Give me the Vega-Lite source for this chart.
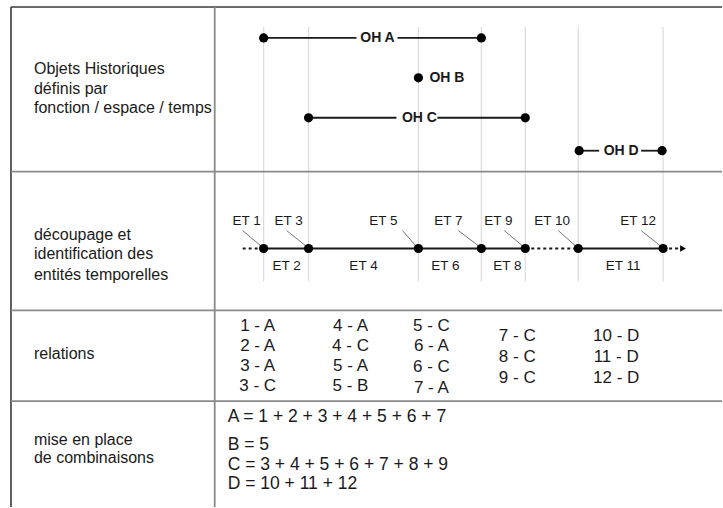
{
  "$schema": "https://vega.github.io/schema/vega-lite/v6.json",
  "width": 723,
  "height": 508,
  "padding": 0,
  "autosize": {"type": "fit", "contains": "padding"},
  "background": "white",
  "config": {"view": {"stroke": null}, "text": {"font": "Liberation Sans"}},
  "datasets": {
    "segments": [
      {"kind": "outer", "x": 11, "y": 7, "x2": 723, "y2": 7},
      {"kind": "outer", "x": 11, "y": 7, "x2": 11, "y2": 508},
      {"kind": "divider", "x": 215, "y": 7, "x2": 215, "y2": 508},
      {"kind": "divider", "x": 11, "y": 172, "x2": 723, "y2": 172},
      {"kind": "divider", "x": 11, "y": 311, "x2": 723, "y2": 311},
      {"kind": "divider", "x": 11, "y": 402, "x2": 723, "y2": 402},
      {"kind": "guide", "x": 264, "y": 27, "x2": 264, "y2": 282},
      {"kind": "guide", "x": 309, "y": 27, "x2": 309, "y2": 282},
      {"kind": "guide", "x": 419, "y": 27, "x2": 419, "y2": 282},
      {"kind": "guide", "x": 482, "y": 27, "x2": 482, "y2": 282},
      {"kind": "guide", "x": 526, "y": 27, "x2": 526, "y2": 282},
      {"kind": "guide", "x": 579, "y": 27, "x2": 579, "y2": 282},
      {"kind": "guide", "x": 664, "y": 27, "x2": 664, "y2": 282},
      {"kind": "oh", "x": 264, "y": 38, "x2": 357, "y2": 38},
      {"kind": "oh", "x": 398, "y": 38, "x2": 482, "y2": 38},
      {"kind": "oh", "x": 309, "y": 118, "x2": 397, "y2": 118},
      {"kind": "oh", "x": 438, "y": 118, "x2": 526, "y2": 118},
      {"kind": "oh", "x": 580, "y": 151, "x2": 600, "y2": 151},
      {"kind": "oh", "x": 642, "y": 151, "x2": 663, "y2": 151},
      {"kind": "timeline", "x": 264, "y": 249, "x2": 526, "y2": 249},
      {"kind": "timeline", "x": 579, "y": 249, "x2": 664, "y2": 249},
      {"kind": "dotted", "x": 243, "y": 249, "x2": 264, "y2": 249},
      {"kind": "dotted", "x": 526, "y": 249, "x2": 579, "y2": 249},
      {"kind": "dotted", "x": 664, "y": 249, "x2": 680, "y2": 249},
      {"kind": "leader", "x": 243, "y": 231, "x2": 262, "y2": 247},
      {"kind": "leader", "x": 287, "y": 231, "x2": 307, "y2": 247},
      {"kind": "leader", "x": 403, "y": 231, "x2": 417, "y2": 247},
      {"kind": "leader", "x": 459, "y": 231, "x2": 480, "y2": 247},
      {"kind": "leader", "x": 505, "y": 231, "x2": 524, "y2": 247},
      {"kind": "leader", "x": 559, "y": 231, "x2": 577, "y2": 247},
      {"kind": "leader", "x": 642, "y": 231, "x2": 662, "y2": 247}
    ],
    "dots": [
      {"x": 264, "y": 38}, {"x": 482, "y": 38}, {"x": 419, "y": 78},
      {"x": 309, "y": 118}, {"x": 526, "y": 118}, {"x": 580, "y": 151}, {"x": 663, "y": 151},
      {"x": 264, "y": 249}, {"x": 309, "y": 249}, {"x": 419, "y": 249}, {"x": 482, "y": 249},
      {"x": 526, "y": 249}, {"x": 579, "y": 249}, {"x": 664, "y": 249}
    ],
    "arrow": [{"x": 684, "y": 249}],
    "ohLabels": [
      {"x": 378, "y": 38, "label": "OH A", "pos": "center"},
      {"x": 430, "y": 78, "label": "OH B", "pos": "left"},
      {"x": 420, "y": 118, "label": "OH C", "pos": "center"},
      {"x": 622, "y": 151, "label": "OH D", "pos": "center"}
    ],
    "etLabels": [
      {"x": 247, "y": 221, "label": "ET 1"},
      {"x": 289, "y": 221, "label": "ET 3"},
      {"x": 384, "y": 221, "label": "ET 5"},
      {"x": 449, "y": 221, "label": "ET 7"},
      {"x": 499, "y": 221, "label": "ET 9"},
      {"x": 553, "y": 221, "label": "ET 10"},
      {"x": 639, "y": 221, "label": "ET 12"},
      {"x": 287, "y": 267, "label": "ET 2"},
      {"x": 364, "y": 267, "label": "ET 4"},
      {"x": 446, "y": 267, "label": "ET 6"},
      {"x": 508, "y": 267, "label": "ET 8"},
      {"x": 624, "y": 267, "label": "ET 11"}
    ],
    "rowLabels": [
      {"x": 34, "y": 69, "label": "Objets Historiques"},
      {"x": 34, "y": 89, "label": "définis par"},
      {"x": 34, "y": 108, "label": "fonction / espace / temps"},
      {"x": 34, "y": 235, "label": "découpage et"},
      {"x": 34, "y": 255, "label": "identification des"},
      {"x": 34, "y": 276, "label": "entités temporelles"},
      {"x": 34, "y": 355, "label": "relations"},
      {"x": 34, "y": 441, "label": "mise en place"},
      {"x": 34, "y": 459, "label": "de combinaisons"}
    ],
    "relations": [
      {"x": 258, "y": 327, "label": "1 - A"},
      {"x": 258, "y": 347, "label": "2 - A"},
      {"x": 258, "y": 367, "label": "3 - A"},
      {"x": 258, "y": 387, "label": "3 - C"},
      {"x": 351, "y": 327, "label": "4 - A"},
      {"x": 351, "y": 347, "label": "4 - C"},
      {"x": 351, "y": 367, "label": "5 - A"},
      {"x": 351, "y": 387, "label": "5 - B"},
      {"x": 432, "y": 327, "label": "5 - C"},
      {"x": 432, "y": 347, "label": "6 - A"},
      {"x": 432, "y": 368, "label": "6 - C"},
      {"x": 432, "y": 389, "label": "7 - A"},
      {"x": 518, "y": 337, "label": "7 - C"},
      {"x": 518, "y": 358, "label": "8 - C"},
      {"x": 518, "y": 379, "label": "9 - C"},
      {"x": 617, "y": 337, "label": "10 - D"},
      {"x": 617, "y": 358, "label": "11 - D"},
      {"x": 617, "y": 379, "label": "12 - D"}
    ],
    "combos": [
      {"x": 228, "y": 418, "label": "A = 1 + 2 + 3 + 4 + 5 + 6 + 7"},
      {"x": 228, "y": 446, "label": "B = 5"},
      {"x": 228, "y": 466, "label": "C = 3 + 4 + 5 + 6 + 7 + 8 + 9"},
      {"x": 228, "y": 485, "label": "D = 10 + 11 + 12"}
    ]
  },
  "encoding": {
    "x": {"field": "x", "type": "quantitative", "scale": {"domain": [0, 723], "nice": false, "zero": false}, "axis": null},
    "y": {"field": "y", "type": "quantitative", "scale": {"domain": [0, 508], "nice": false, "zero": false, "reverse": true}, "axis": null}
  },
  "layer": [
    {
      "data": {"name": "segments"},
      "transform": [{"filter": "datum.kind === 'guide'"}],
      "mark": {"type": "rule", "color": "#dcdcdc", "strokeWidth": 1.2},
      "encoding": {"x2": {"field": "x2"}, "y2": {"field": "y2"}}
    },
    {
      "data": {"name": "segments"},
      "transform": [{"filter": "datum.kind === 'outer'"}],
      "mark": {"type": "rule", "color": "#3a3a3a", "strokeWidth": 1.6},
      "encoding": {"x2": {"field": "x2"}, "y2": {"field": "y2"}}
    },
    {
      "data": {"name": "segments"},
      "transform": [{"filter": "datum.kind === 'divider'"}],
      "mark": {"type": "rule", "color": "#8a8a8a", "strokeWidth": 1.8},
      "encoding": {"x2": {"field": "x2"}, "y2": {"field": "y2"}}
    },
    {
      "data": {"name": "segments"},
      "transform": [{"filter": "datum.kind === 'oh' || datum.kind === 'timeline'"}],
      "mark": {"type": "rule", "color": "#1a1a1a", "strokeWidth": 1.8},
      "encoding": {"x2": {"field": "x2"}, "y2": {"field": "y2"}}
    },
    {
      "data": {"name": "segments"},
      "transform": [{"filter": "datum.kind === 'dotted'"}],
      "mark": {"type": "rule", "color": "#1a1a1a", "strokeWidth": 1.8, "strokeDash": [3, 3]},
      "encoding": {"x2": {"field": "x2"}, "y2": {"field": "y2"}}
    },
    {
      "data": {"name": "segments"},
      "transform": [{"filter": "datum.kind === 'leader'"}],
      "mark": {"type": "rule", "color": "#777777", "strokeWidth": 1},
      "encoding": {"x2": {"field": "x2"}, "y2": {"field": "y2"}}
    },
    {
      "data": {"name": "dots"},
      "mark": {"type": "point", "shape": "circle", "filled": true, "color": "#000000", "size": 85, "opacity": 1}
    },
    {
      "data": {"name": "arrow"},
      "mark": {"type": "point", "shape": "triangle-right", "filled": true, "color": "#000000", "size": 45, "opacity": 1}
    },
    {
      "data": {"name": "ohLabels"},
      "transform": [{"filter": "datum.pos === 'center'"}],
      "mark": {"type": "text", "font": "Liberation Sans", "fontWeight": "bold", "fontSize": 14, "align": "center", "baseline": "middle", "color": "#1a1a1a"},
      "encoding": {"text": {"field": "label"}}
    },
    {
      "data": {"name": "ohLabels"},
      "transform": [{"filter": "datum.pos === 'left'"}],
      "mark": {"type": "text", "font": "Liberation Sans", "fontWeight": "bold", "fontSize": 14, "align": "left", "baseline": "middle", "color": "#1a1a1a"},
      "encoding": {"text": {"field": "label"}}
    },
    {
      "data": {"name": "etLabels"},
      "mark": {"type": "text", "font": "Liberation Sans", "fontSize": 13.5, "align": "center", "baseline": "middle", "color": "#1a1a1a"},
      "encoding": {"text": {"field": "label"}}
    },
    {
      "data": {"name": "rowLabels"},
      "mark": {"type": "text", "font": "Liberation Sans", "fontSize": 16, "align": "left", "baseline": "middle", "color": "#1a1a1a"},
      "encoding": {"text": {"field": "label"}}
    },
    {
      "data": {"name": "relations"},
      "mark": {"type": "text", "font": "Liberation Sans", "fontSize": 17, "align": "center", "baseline": "middle", "color": "#1a1a1a"},
      "encoding": {"text": {"field": "label"}}
    },
    {
      "data": {"name": "combos"},
      "mark": {"type": "text", "font": "Liberation Sans", "fontSize": 17.5, "align": "left", "baseline": "middle", "color": "#1a1a1a"},
      "encoding": {"text": {"field": "label"}}
    }
  ]
}
